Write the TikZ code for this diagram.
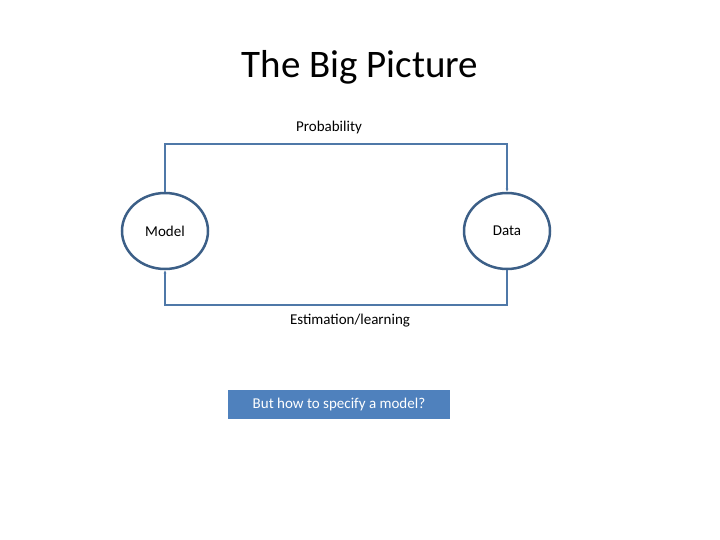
\documentclass[tikz,border=0pt]{standalone}
\usepackage{fontspec}
\setmainfont{Carlito}
\definecolor{edge}{HTML}{3C5F87}
\definecolor{ln}{HTML}{4F78A8}
\definecolor{boxc}{HTML}{4F81BD}
\begin{document}
\begin{tikzpicture}[x=1pt,y=-1pt,
  ell/.style={ellipse,draw=edge,line width=2.5pt,minimum width=86pt,minimum height=76pt,font=\fontsize{15}{18}\selectfont},
  lbl/.style={font=\fontsize{15}{18}\selectfont},
  conn/.style={draw=ln,line width=1.5pt,-{Latex[length=3pt,width=3pt]}}]
\usetikzlibrary{shapes.geometric,arrows.meta}
\useasboundingbox (0,0) rectangle (720,540);
\node[font=\fontsize{39}{44}\selectfont] (title) at (360,67) {The Big Picture};
\node[ell] (model) at (165,231) {Model};
\node[ell] (data) at (507,231) {Data};
\node[lbl] (prob) at (329,128) {Probability};
\node[lbl] (est) at (350,321) {Estimation/learning};
\coordinate (c1) at (165,144);
\coordinate (c2) at (507,144);
\coordinate (c3) at (507,305);
\coordinate (c4) at (165,305);
\draw[conn] (model.north) -- (c1) -- (c2) -- (data.north);
\draw[conn] (data.south) -- (c3) -- (c4) -- (model.south);
\node[fill=boxc,text=white,font=\fontsize{15}{18}\selectfont,minimum width=222pt,minimum height=29pt,inner sep=0pt] (q) at (339,404.5) {But how to specify a model?};
\end{tikzpicture}
\end{document}
